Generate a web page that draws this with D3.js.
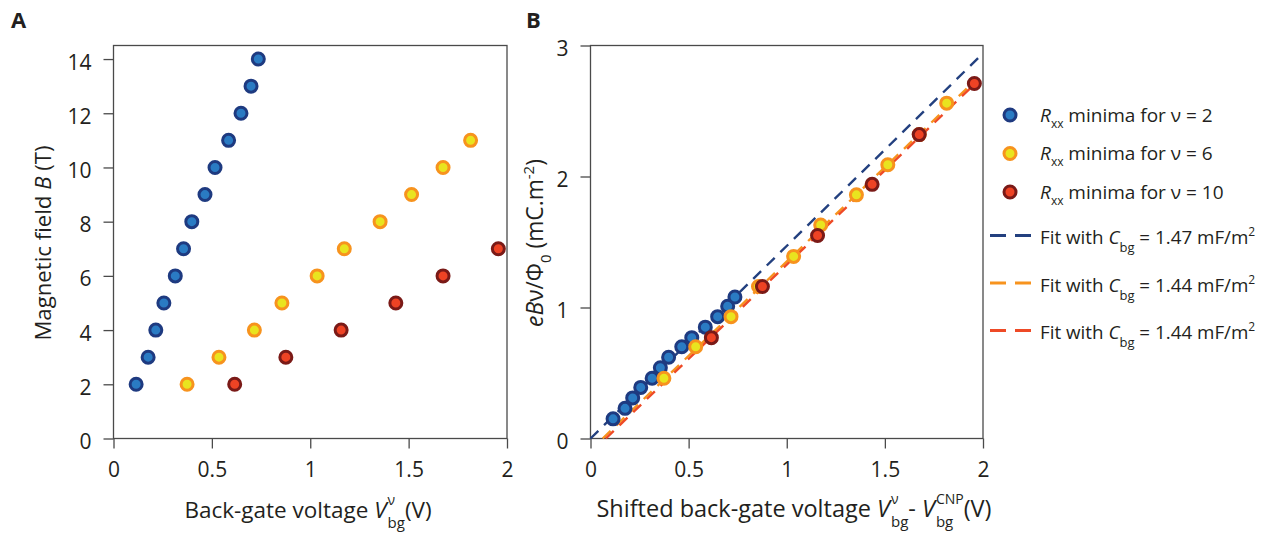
<!DOCTYPE html>
<html>
<head>
<meta charset="utf-8">
<script src="https://cdn.jsdelivr.net/npm/d3@7/dist/d3.min.js"></script>
<style>
  html, body { margin: 0; padding: 0; background: #fff; }
  svg text { font-family: "Open Sans", "Noto Sans", sans-serif; fill: #231f20; white-space: pre; }
</style>
</head>
<body>
<svg id="chart" width="1268" height="535"></svg>
<script>
// ---------------- data ----------------
const fieldNu2  = [2, 3, 4, 5, 6, 7, 8, 9, 10, 11, 12, 13, 14];
const vbgNu2    = [0.115, 0.176, 0.215, 0.256, 0.314, 0.356, 0.398, 0.465, 0.516, 0.585, 0.648, 0.699, 0.736];
const fieldNu6  = [2, 3, 4, 5, 6, 7, 8, 9, 10, 11];
const vbgNu6    = [0.374, 0.536, 0.716, 0.856, 1.035, 1.173, 1.355, 1.515, 1.675, 1.815];
const fieldNu10 = [2, 3, 4, 5, 6, 7];
const vbgNu10   = [0.616, 0.876, 1.157, 1.435, 1.675, 1.956];

// panel B: eBν/Φ0 (mC/m²)
const chargeNu2  = [0.15, 0.23, 0.31, 0.39, 0.46, 0.54, 0.62, 0.70, 0.77, 0.85, 0.93, 1.01, 1.08];
const chargeNu6  = [0.46, 0.70, 0.93, 1.16, 1.39, 1.63, 1.86, 2.09, 2.32, 2.56];
const chargeNu10 = [0.77, 1.16, 1.55, 1.94, 2.32, 2.71];

// fit lines: [x0, x1] endpoints, capacitance (slope) and x-offset
const fitBlueX   = [0.0, 1.988];   const fitBlueC   = 1.47; const fitBlueOffset   = 0.0;
const fitOrangeX = [0.062, 1.97];  const fitOrangeC = 1.44; const fitOrangeOffset = 0.062;
const fitRedX    = [0.078, 1.97];  const fitRedC    = 1.44; const fitRedOffset    = 0.078;

const xTicks  = [0, 0.5, 1, 1.5, 2];
const yTicksA = [0, 2, 4, 6, 8, 10, 12, 14];
const yTicksB = [0, 1, 2, 3];

// ---------------- styles ----------------
const styles = {
  nu2:  { fill: "#2a7bc3", stroke: "#1e3a80" },
  nu6:  { fill: "#e9e41f", stroke: "#f7931e" },
  nu10: { fill: "#ee4324", stroke: "#7a1a17" },
};
const lineColors = { blue: "#23407f", orange: "#f7931e", red: "#ee4a26" };
const TXT = "#231f20";

const svg = d3.select("#chart");

// rich text helper: one <text> per label, segments as tspans laid out in sequence;
// "stack" segments place a superscript and a subscript at the same x
function rich(parent, x, y, segs, opt) {
  opt = Object.assign({ anchor: "middle", size: 21, rotate: 0 }, opt || {});
  const g = parent.append("g").attr("transform", `translate(${x},${y}) rotate(${opt.rotate})`);
  const text = g.append("text");
  let cx = 0;
  const addSpan = (p, atX) => {
    const ts = text.append("tspan").attr("x", atX).attr("y", p.dy || 0)
      .style("font-size", (p.size || opt.size) + "px")
      .style("font-style", p.italic ? "italic" : "normal")
      .text(p.t);
    return ts.node().getComputedTextLength();
  };
  segs.forEach(s => {
    if (s.stack) {
      let w = 0;
      s.stack.forEach(p => { w = Math.max(w, addSpan(p, cx)); });
      cx += w + (s.gap || 0);
    } else {
      cx += addSpan(s, cx) + (s.gap || 0);
    }
  });
  if (opt.anchor === "middle") text.attr("transform", `translate(${-cx / 2},0)`);
  else if (opt.anchor === "end") text.attr("transform", `translate(${-cx},0)`);
  return cx;
}

function drawFrame(xs, ys) {
  const [x0, x1] = xs.range(), [y0, y1] = ys.range();
  svg.append("rect").attr("x", x0).attr("y", y1).attr("width", x1 - x0).attr("height", y0 - y1)
    .attr("fill", "none").attr("stroke", "#4a4a4a").attr("stroke-width", 1.3);
}

function drawAxes(xs, ys, yTicks) {
  const [x0] = xs.range(), [y0] = ys.range();
  const gx = svg.append("g").attr("transform", `translate(0,${y0})`)
    .call(d3.axisBottom(xs).tickValues(xTicks).tickFormat(d3.format("")).tickSize(10).tickSizeOuter(0).tickPadding(14));
  const gy = svg.append("g").attr("transform", `translate(${x0},0)`)
    .call(d3.axisLeft(ys).tickValues(yTicks).tickFormat(d3.format("")).tickSize(10).tickSizeOuter(0).tickPadding(12));
  [gx, gy].forEach(g => {
    g.select(".domain").remove();
    g.selectAll(".tick line").attr("stroke", "#4a4a4a").attr("stroke-width", 1.3);
    g.selectAll(".tick text").style("font-size", "21px").attr("fill", TXT)
      .style("font-family", '"Open Sans", sans-serif');
  });
  gy.selectAll(".tick text").attr("dy", "0.48em");
}

function drawPoints(xs, ys, xv, yv, st) {
  svg.append("g").selectAll("circle").data(xv).join("circle")
    .attr("cx", d => xs(d)).attr("cy", (d, i) => ys(yv[i])).attr("r", 6)
    .attr("fill", st.fill).attr("stroke", st.stroke).attr("stroke-width", 3);
}

// ---------------- panel A ----------------
const xA = d3.scaleLinear().domain([0, 2]).range([113.5, 507]);
const yA = d3.scaleLinear().domain([0, 14.5]).range([438.5, 45.5]);
drawFrame(xA, yA);
drawAxes(xA, yA, yTicksA);
drawPoints(xA, yA, vbgNu2, fieldNu2, styles.nu2);
drawPoints(xA, yA, vbgNu6, fieldNu6, styles.nu6);
drawPoints(xA, yA, vbgNu10, fieldNu10, styles.nu10);

// ---------------- panel B ----------------
const xB = d3.scaleLinear().domain([0, 2]).range([590.5, 983]);
const yB = d3.scaleLinear().domain([0, 3]).range([438.5, 45.5]);
drawFrame(xB, yB);
drawAxes(xB, yB, yTicksB);

const fitLine = d3.line().x(d => xB(d[0])).y(d => yB(d[1]));
function drawFit(xr, c, off, color) {
  const pts = xr.map(x => [x, c * (x - off)]);
  svg.append("path").attr("d", fitLine(pts)).attr("fill", "none")
    .attr("stroke", color).attr("stroke-width", 2.4).attr("stroke-dasharray", "11,8");
}
drawFit(fitBlueX, fitBlueC, fitBlueOffset, lineColors.blue);
drawFit(fitOrangeX, fitOrangeC, fitOrangeOffset, lineColors.orange);
drawFit(fitRedX, fitRedC, fitRedOffset, lineColors.red);

drawPoints(xB, yB, vbgNu2, chargeNu2, styles.nu2);
drawPoints(xB, yB, vbgNu6, chargeNu6, styles.nu6);
drawPoints(xB, yB, vbgNu10, chargeNu10, styles.nu10);

// ---------------- panel letters ----------------
svg.append("text").attr("x", 11).attr("y", 28).text("A")
  .style("font-size", "22px").style("font-weight", "bold");
svg.append("text").attr("x", 526).attr("y", 28).text("B")
  .style("font-size", "22px").style("font-weight", "bold");

// ---------------- axis titles ----------------
rich(svg, 308, 518, [
  { t: "Back-gate voltage " },
  { t: "V", italic: true, gap: 1 },
  { stack: [{ t: "ν", size: 14, dy: -13 }, { t: "bg", size: 15, dy: 10 }] },
  { t: "(V)" }
], { size: 22.5 });
rich(svg, 794, 517, [
  { t: "Shifted back-gate voltage " },
  { t: "V", italic: true, gap: 1 },
  { stack: [{ t: "ν", size: 14, dy: -13 }, { t: "bg", size: 15, dy: 10 }] },
  { t: "- " },
  { t: "V", italic: true, gap: 1 },
  { stack: [{ t: "CNP", size: 14, dy: -13 }, { t: "bg", size: 15, dy: 10 }] },
  { t: "(V)" }
], { size: 23.5 });
rich(svg, 51, 243, [
  { t: "Magnetic field " },
  { t: "B", italic: true },
  { t: " (T)" }
], { rotate: -90, size: 22.2 });
rich(svg, 543, 243, [
  { t: "eB", italic: true },
  { t: "ν/Φ" },
  { t: "0", size: 15, dy: 8 },
  { t: " (mC.m" },
  { t: "-2", size: 15, dy: -9 },
  { t: ")" }
], { rotate: -90, size: 22.8 });

// ---------------- legend ----------------
const legPts = [
  { st: styles.nu2, y: 115, label: "2" },
  { st: styles.nu6, y: 153.5, label: "6" },
  { st: styles.nu10, y: 192, label: "10" },
];
legPts.forEach(d => {
  svg.append("circle").attr("cx", 1010).attr("cy", d.y).attr("r", 6)
    .attr("fill", d.st.fill).attr("stroke", d.st.stroke).attr("stroke-width", 3);
  rich(svg, 1040, d.y + 6.5, [
    { t: "R", italic: true },
    { t: "xx", size: 12, dy: 6 },
    { t: " minima for ν = " + d.label }
  ], { anchor: "start", size: 19 });
});
const legLines = [
  { c: lineColors.blue, y: 235.5, v: "1.47" },
  { c: lineColors.orange, y: 283, v: "1.44" },
  { c: lineColors.red, y: 330.5, v: "1.44" },
];
legLines.forEach(d => {
  svg.append("line").attr("x1", 990).attr("x2", 1031).attr("y1", d.y).attr("y2", d.y)
    .attr("stroke", d.c).attr("stroke-width", 3).attr("stroke-dasharray", "16,9");
  rich(svg, 1040, d.y + 8.5, [
    { t: "Fit with " },
    { t: "C", italic: true },
    { t: "bg", size: 13, dy: 8 },
    { t: " = " + d.v + " mF/m" },
    { t: "2", size: 12, dy: -8 }
  ], { anchor: "start", size: 18.8 });
});
</script>
</body>
</html>
